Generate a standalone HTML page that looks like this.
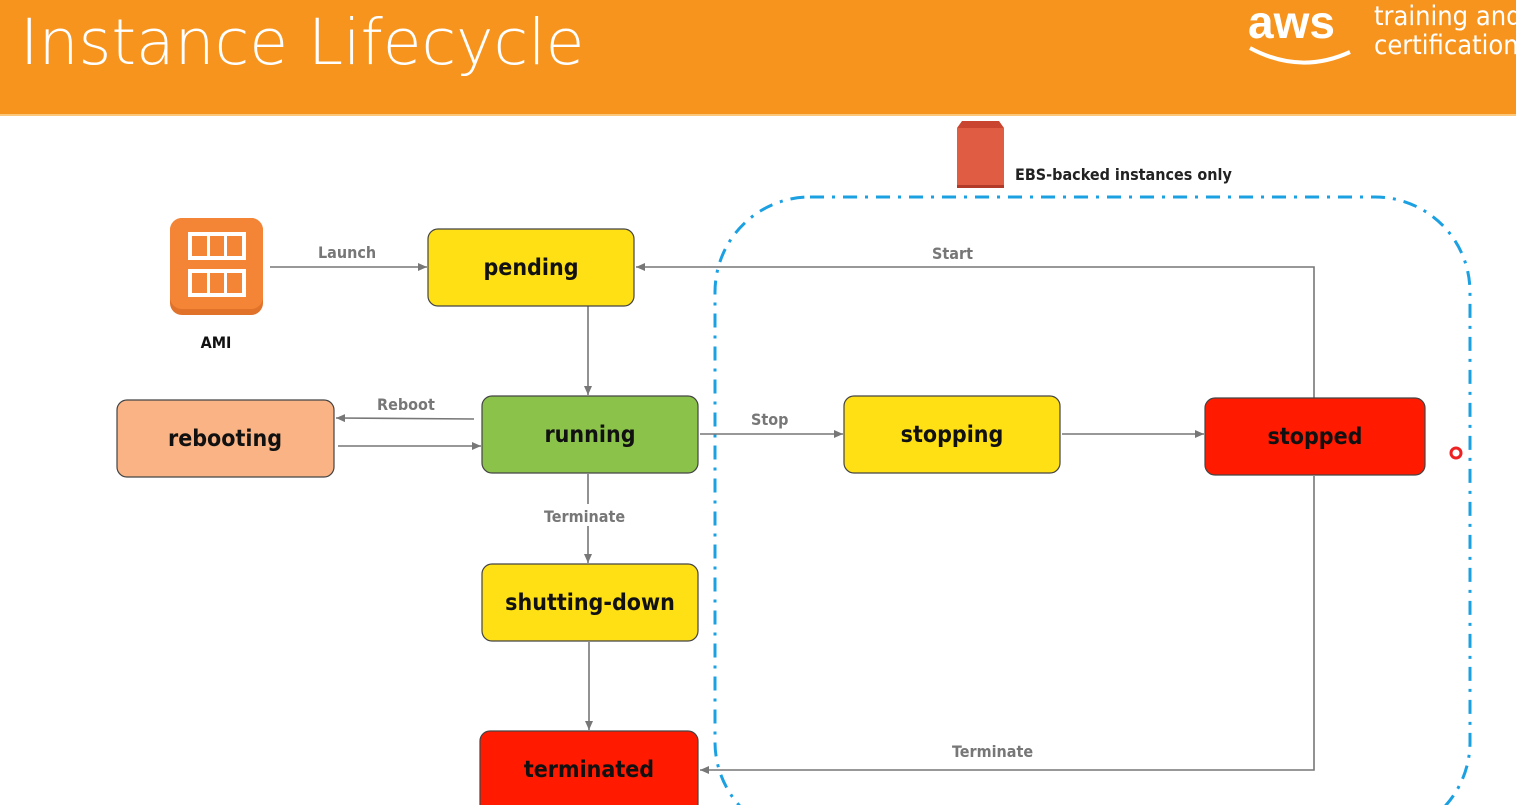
<!DOCTYPE html>
<html><head><meta charset="utf-8"><style>
html,body{margin:0;padding:0;width:1516px;height:805px;overflow:hidden;background:#fff}
</style></head><body>
<svg width="1516" height="805" viewBox="0 0 1516 805" xmlns="http://www.w3.org/2000/svg" font-family="'DejaVu Sans Condensed','Liberation Sans',sans-serif">
<defs>
<marker id="a" markerWidth="10" markerHeight="10" refX="9" refY="5" orient="auto" markerUnits="userSpaceOnUse"><path d="M0,1 L9,5 L0,9 z" fill="#777"/></marker>
</defs>
<rect x="0" y="0" width="1516" height="114" fill="#F7941E"/>
<rect x="0" y="114" width="1516" height="2" fill="#fbc77a"/>
<text x="20" y="64" font-family="'DejaVu Sans','Liberation Sans',sans-serif" font-size="63" fill="#fff" font-weight="300">Instance Lifecycle</text>
<text x="1248" y="38" font-size="46" fill="#fff" font-weight="bold" font-family="'Liberation Sans',sans-serif">aws</text>
<path d="M1250,48 Q1300,75 1350,52" stroke="#fff" stroke-width="4" fill="none"/>
<text x="1374" y="25" font-size="27" fill="#fff">training and</text>
<text x="1374" y="54" font-size="27" fill="#fff">certification</text>
<!-- EBS -->
<rect x="957" y="128" width="47" height="60" fill="#E05D44"/>
<path d="M957,128 L962,121 L999,121 L1004,128 z" fill="#c9452f"/>
<rect x="957" y="185" width="47" height="3" fill="#b23a28"/>
<text x="1015" y="180" font-size="16" font-weight="bold" fill="#222">EBS-backed instances only</text>
<!-- dashed region -->
<rect x="715" y="197" width="755" height="640" rx="95" fill="none" stroke="#1BA0E2" stroke-width="3" stroke-dasharray="14,8,3,8"/>
<!-- AMI -->
<rect x="170" y="218" width="93" height="97" rx="12" fill="#E0722A"/>
<rect x="170" y="218" width="93" height="91" rx="12" fill="#F58536"/>
<rect x="188" y="232" width="58" height="28" fill="#fff"/>
<rect x="188" y="269" width="58" height="28" fill="#fff"/>
<g fill="#F58536"><rect x="192" y="236" width="15" height="20"/><rect x="210" y="236" width="14" height="20"/><rect x="227" y="236" width="15" height="20"/>
<rect x="192" y="273" width="15" height="20"/><rect x="210" y="273" width="14" height="20"/><rect x="227" y="273" width="15" height="20"/></g>
<text x="216" y="348" font-size="16" font-weight="bold" text-anchor="middle" fill="#111">AMI</text>
<!-- connectors -->
<g stroke="#777" stroke-width="1.6" fill="none" marker-end="url(#a)">
<line x1="270" y1="267" x2="427" y2="267"/>
<line x1="588" y1="306" x2="588" y2="395"/>
<line x1="474" y1="419" x2="336" y2="418"/>
<line x1="338" y1="446" x2="481" y2="446"/>
<line x1="700" y1="434" x2="843" y2="434"/>
<line x1="1062" y1="434" x2="1204" y2="434"/>
<polyline points="1314,398 1314,267 636,267"/>
<line x1="588" y1="474" x2="588" y2="563"/>
<line x1="589" y1="642" x2="589" y2="730"/>
<polyline points="1314,476 1314,770 700,770"/>
</g>
<rect x="540" y="504" width="95" height="22" fill="#fff"/>
<g font-size="16" font-weight="bold" fill="#777">
<text x="318" y="258">Launch</text>
<text x="377" y="410">Reboot</text>
<text x="751" y="425">Stop</text>
<text x="932" y="259">Start</text>
<text x="544" y="522">Terminate</text>
<text x="952" y="757">Terminate</text>
</g>
<!-- nodes -->
<g stroke="#444" stroke-width="1.2">
<rect x="428" y="229" width="206" height="77" rx="10" fill="#FFE014"/>
<rect x="482" y="396" width="216" height="77" rx="10" fill="#8BC34A"/>
<rect x="117" y="400" width="217" height="77" rx="10" fill="#F9B384"/>
<rect x="482" y="564" width="216" height="77" rx="10" fill="#FFE014"/>
<rect x="480" y="731" width="218" height="90" rx="10" fill="#FF1A00"/>
<rect x="844" y="396" width="216" height="77" rx="10" fill="#FFE014"/>
<rect x="1205" y="398" width="220" height="77" rx="10" fill="#FF1A00"/>
</g>
<g font-size="23" font-weight="bold" text-anchor="middle" fill="#111">
<text x="531" y="275">pending</text>
<text x="590" y="442">running</text>
<text x="225" y="446">rebooting</text>
<text x="590" y="610">shutting-down</text>
<text x="589" y="777">terminated</text>
<text x="952" y="442">stopping</text>
<text x="1315" y="444">stopped</text>
</g>
<circle cx="1456" cy="453" r="5" fill="none" stroke="#e22" stroke-width="3"/>
</svg>
</body></html>
